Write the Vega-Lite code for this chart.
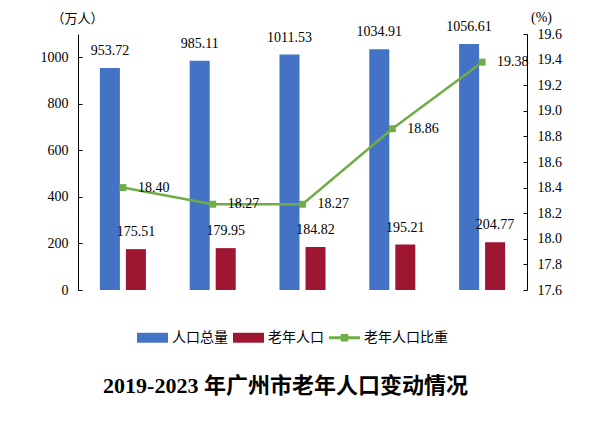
{
  "$schema": "https://vega.github.io/schema/vega-lite/v6.json",
  "width": 449,
  "height": 256,
  "autosize": {"type": "none"},
  "padding": {"left": 78, "top": 34, "right": 73, "bottom": 139},
  "background": "white",
  "config": {
    "view": {"stroke": null},
    "axis": {
      "grid": false,
      "domainColor": "#000",
      "tickColor": "#000",
      "labelColor": "#000",
      "labelFont": "Liberation Serif, Noto Sans CJK SC",
      "labelFontSize": 14,
      "titleFont": "Noto Sans CJK SC",
      "titleFontSize": 13,
      "titleFontWeight": "normal",
      "titleColor": "#000"
    },
    "text": {"font": "Liberation Serif", "fontSize": 14, "color": "#000"}
  },
  "title": {
    "text": "2019-2023 年广州市老年人口变动情况",
    "orient": "bottom",
    "font": "Liberation Serif, Noto Sans CJK SC",
    "fontSize": 22,
    "fontWeight": "bold",
    "color": "#000",
    "anchor": "middle",
    "dx": -17,
    "offset": 31
  },
  "datasets": {
    "bars": [
      {"year": "2019年", "series": "人口总量", "value": 953.72},
      {"year": "2019年", "series": "老年人口", "value": 175.51},
      {"year": "2020年", "series": "人口总量", "value": 985.11},
      {"year": "2020年", "series": "老年人口", "value": 179.95},
      {"year": "2021年", "series": "人口总量", "value": 1011.53},
      {"year": "2021年", "series": "老年人口", "value": 184.82},
      {"year": "2022年", "series": "人口总量", "value": 1034.91},
      {"year": "2022年", "series": "老年人口", "value": 195.21},
      {"year": "2023年", "series": "人口总量", "value": 1056.61},
      {"year": "2023年", "series": "老年人口", "value": 204.77}
    ],
    "ratio": [
      {"year": "2019年", "pct": 18.40},
      {"year": "2020年", "pct": 18.27},
      {"year": "2021年", "pct": 18.27},
      {"year": "2022年", "pct": 18.86},
      {"year": "2023年", "pct": 19.38}
    ]
  },
  "layer": [
    {
      "data": {"name": "bars"},
      "encoding": {
        "x": {
          "field": "year",
          "type": "nominal",
          "scale": {"paddingInner": 0, "paddingOuter": 0},
          "axis": {"title": null, "labelAngle": 0, "bandPosition": 0, "tickSize": -4, "labelPadding": 14}
        },
        "xOffset": {
          "field": "series",
          "scale": {"domain": ["人口总量", "老年人口"], "paddingInner": 0.2308, "paddingOuter": 0.842}
        },
        "y": {
          "field": "value",
          "type": "quantitative",
          "scale": {"domain": [0, 1100], "nice": false},
          "axis": {
            "values": [0, 200, 400, 600, 800, 1000],
            "format": "d",
            "tickSize": -4,
            "labelPadding": 14,
            "title": "（万人）",
            "titleAngle": 0,
            "titleX": -1,
            "titleY": -16,
            "titleAlign": "center",
            "titleBaseline": "middle"
          }
        }
      },
      "layer": [
        {
          "mark": {"type": "bar"},
          "encoding": {
            "color": {
              "field": "series",
              "type": "nominal",
              "scale": {"domain": ["人口总量", "老年人口", "老年人口比重"], "range": ["#4472C4", "#9E1631", "#70AD47"]},
              "legend": {
                "orient": "none",
                "legendX": 59,
                "legendY": 288,
                "direction": "horizontal",
                "title": null,
                "padding": 0,
                "symbolSize": 961,
                "symbolStrokeWidth": 0,
                "labelFont": "Noto Sans CJK SC",
                "labelFontSize": 14,
                "labelColor": "#000",
                "labelOffset": 4,
                "columnPadding": 5,
                "encode": {
                  "symbols": {
                    "update": {
                      "shape": {"signal": "datum.value === '老年人口比重' ? 'M-1,-0.09H1V0.09H-1Z M-0.24,-0.24H0.24V0.24H-0.24Z' : 'M-1,-0.32H1V0.32H-1Z'"}
                    }
                  }
                }
              }
            }
          }
        },
        {
          "mark": {"type": "text", "dy": -17},
          "encoding": {"text": {"field": "value", "type": "quantitative", "format": ".2f"}}
        }
      ]
    },
    {
      "data": {"name": "ratio"},
      "encoding": {
        "x": {"field": "year", "type": "nominal", "axis": null},
        "y": {
          "field": "pct",
          "type": "quantitative",
          "scale": {"domain": [17.6, 19.6], "nice": false, "zero": false},
          "axis": {
            "orient": "right",
            "values": [17.6, 17.8, 18.0, 18.2, 18.4, 18.6, 18.8, 19.0, 19.2, 19.4, 19.6],
            "format": ".1f",
            "tickSize": -4,
            "labelPadding": 14,
            "title": "(%)",
            "titleFont": "Liberation Serif",
            "titleFontSize": 14,
            "titleAngle": 0,
            "titleX": 14,
            "titleY": -17,
            "titleAlign": "center",
            "titleBaseline": "middle"
          }
        }
      },
      "layer": [
        {
          "mark": {"type": "line", "color": "#70AD47", "strokeWidth": 2.5, "point": {"shape": "square", "size": 49, "filled": true, "color": "#70AD47"}}
        },
        {
          "mark": {"type": "text", "align": "left", "dx": 15},
          "encoding": {"text": {"field": "pct", "type": "quantitative", "format": ".2f"}}
        }
      ]
    }
  ],
  "resolve": {"scale": {"y": "independent"}}
}
